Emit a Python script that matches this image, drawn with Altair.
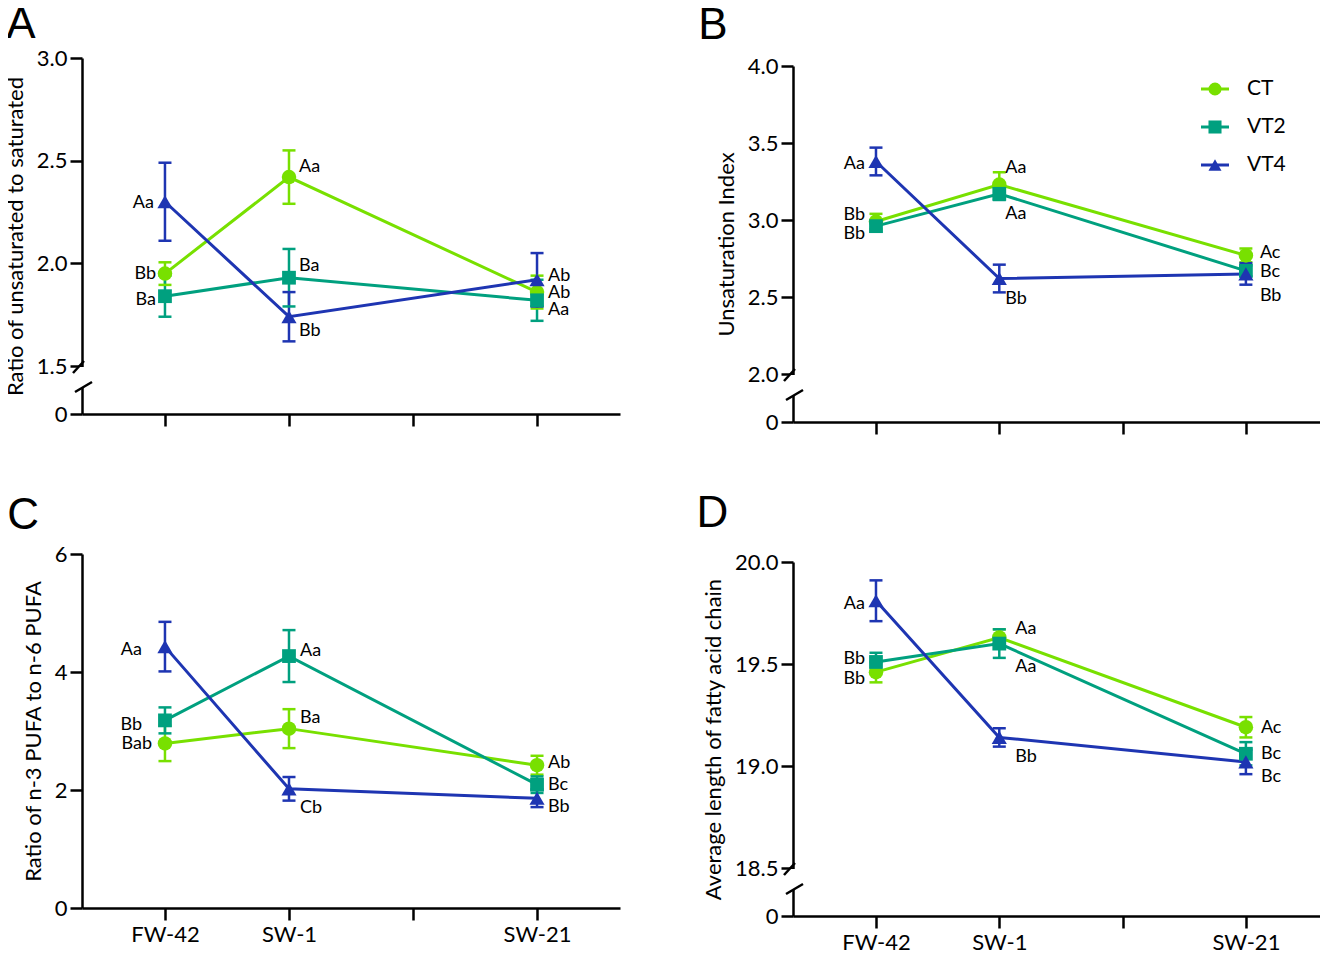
import altair as alt
import pandas as pd

# ---------------- data ----------------
series_names = ["CT", "VT2", "VT4"]
series_colors = ["#78E000", "#00A07F", "#1E35B2"]
series_shapes = ["circle", "square", "triangle-up"]
series_sizes = [210, 190, 230]

x_pos = [0, 1, 3]
x_tick_values = [0, 1, 2, 3]
x_tick_labels = ["FW-42", "SW-1", "", "SW-21"]

# Panel A: ratio of unsaturated to saturated
a_mean = {"CT": [1.95, 2.42, 1.86], "VT2": [1.84, 1.93, 1.82], "VT4": [2.30, 1.74, 1.92]}
a_err = {"CT": [0.055, 0.13, 0.08], "VT2": [0.10, 0.14, 0.10], "VT4": [0.19, 0.12, 0.13]}
a_lab = {"CT": ["Bb", "Aa", "Ab"], "VT2": ["Ba", "Ba", "Aa"], "VT4": ["Aa", "Bb", "Ab"]}
a_ticks = [0, 1.5, 2.0, 2.5, 3.0]

# Panel B: unsaturation index
b_mean = {"CT": [2.99, 3.23, 2.77], "VT2": [2.96, 3.17, 2.67], "VT4": [3.38, 2.62, 2.65]}
b_err = {"CT": [0.05, 0.08, 0.045], "VT2": [0.035, 0.04, 0.035], "VT4": [0.09, 0.09, 0.07]}
b_lab = {"CT": ["Bb", "Aa", "Ac"], "VT2": ["Bb", "Aa", "Bc"], "VT4": ["Aa", "Bb", "Bb"]}
b_ticks = [0, 2.0, 2.5, 3.0, 3.5, 4.0]

# Panel C: ratio of n-3 PUFA to n-6 PUFA
c_mean = {"CT": [2.79, 3.04, 2.42], "VT2": [3.18, 4.27, 2.09], "VT4": [4.43, 2.02, 1.86]}
c_err = {"CT": [0.30, 0.33, 0.16], "VT2": [0.22, 0.44, 0.14], "VT4": [0.42, 0.20, 0.15]}
c_lab = {"CT": ["Bab", "Ba", "Ab"], "VT2": ["Bb", "Aa", "Bc"], "VT4": ["Aa", "Cb", "Bb"]}
c_ticks = [0, 2, 4, 6]

# Panel D: average length of fatty acid chain
d_mean = {"CT": [19.46, 19.63, 19.19], "VT2": [19.51, 19.60, 19.06], "VT4": [19.81, 19.14, 19.02]}
d_err = {"CT": [0.05, 0.04, 0.05], "VT2": [0.045, 0.07, 0.057], "VT4": [0.10, 0.045, 0.06]}
d_lab = {"CT": ["Bb", "Aa", "Ac"], "VT2": ["Bb", "Aa", "Bc"], "VT4": ["Aa", "Bb", "Bc"]}
d_ticks = [0, 18.5, 19.0, 19.5, 20.0]

# label placement offsets in pixels (dx, dy) -- layout only
a_off = {"CT": [(-9, 0), (10, -10), (11, 1)], "VT2": [(-9, 4), (10, -12), (11, 10)], "VT4": [(-11, 1), (10, 14), (11, -4)]}
b_off = {"CT": [(-11, -7), (6, -17), (14, -2)], "VT2": [(-11, 8), (6, 20), (14, 1)], "VT4": [(-11, 3), (6, 20), (14, 22)]}
c_off = {"CT": [(-13, 1), (11, -11), (11, -2)], "VT2": [(-23, 5), (11, -5), (11, 0)], "VT4": [(-23, 3), (11, 19), (11, 9)]}
d_off = {"CT": [(-11, 7), (16, -8), (15, 1)], "VT2": [(-11, -3), (16, 23), (15, 0)], "VT4": [(-11, 3), (16, 20), (15, 15)]}

FONT = "Lato"


def build_df(mean, err, lab, off):
    rows = []
    for s in series_names:
        for i, xv in enumerate(x_pos):
            m, e = mean[s][i], err[s][i]
            rows.append({"series": s, "x": xv, "mean": m, "lo": m - e, "hi": m + e,
                         "label": lab[s][i], "dx": off[s][i][0], "dy": off[s][i][1]})
    return pd.DataFrame(rows)


col_scale = alt.Scale(domain=series_names, range=series_colors)
C = alt.Color("series:N", scale=col_scale, legend=None)


def legend_layer():
    leg_df = pd.DataFrame({"series": series_names})
    ly = alt.Y("series:N", scale=alt.Scale(type="point", domain=series_names, range=[31, 107], padding=0),
               axis=None)
    base = alt.Chart(leg_df)
    line = base.mark_rule(strokeWidth=3).encode(x=alt.value(408), x2=alt.value(436), y=ly, color=C)
    pts = base.mark_point(filled=True, opacity=1, size=170).encode(
        x=alt.value(422), y=ly, color=C,
        shape=alt.Shape("series:N", scale=alt.Scale(domain=series_names, range=series_shapes), legend=None))
    txt = base.mark_text(align="left", baseline="middle", font=FONT, fontSize=21, color="black").encode(
        x=alt.value(454), y=ly, text="series:N")
    return alt.layer(line, pts, txt)


def panel(letter, ytitle, mean, err, lab, off, ydomain, yrange, height, yticks, yfmt,
          width, xdomain, show_xlabels, broken, title_offset, title_dx, legend=False):
    df = build_df(mean, err, lab, off)
    base = alt.Chart(df)
    xaxis = alt.Axis(values=x_tick_values, title=None, labels=show_xlabels,
                     labelExpr="['" + "','".join(x_tick_labels) + "'][datum.value]",
                     labelPadding=4)
    X = alt.X("x:Q", scale=alt.Scale(domain=xdomain, nice=False, zero=False), axis=xaxis)
    yscale = alt.Scale(domain=ydomain, range=yrange, nice=False, zero=False)
    yaxis = alt.Axis(values=yticks, title=ytitle, zindex=0, labelExpr=yfmt, titlePadding=9)

    def Y(field):
        return alt.Y(field + ":Q", scale=yscale, axis=yaxis, title=ytitle)

    lines = base.mark_line(strokeWidth=3).encode(x=X, y=Y("mean"), color=C)
    rules = base.mark_rule(strokeWidth=2.5).encode(x=X, y=Y("lo"), y2="hi:Q", color=C)
    cap_lo = base.mark_tick(orient="horizontal", size=13, thickness=2.5, opacity=1).encode(x=X, y=Y("lo"), color=C)
    cap_hi = base.mark_tick(orient="horizontal", size=13, thickness=2.5, opacity=1).encode(x=X, y=Y("hi"), color=C)
    layers = [rules, cap_lo, cap_hi, lines]
    for s, sh, sz in zip(series_names, series_shapes, series_sizes):
        layers.append(base.transform_filter(alt.datum.series == s)
                      .mark_point(shape=sh, filled=True, size=sz, opacity=1)
                      .encode(x=X, y=Y("mean"), color=C))
    pairs = sorted(set(zip(df["dx"], df["dy"])))
    for dx, dy in pairs:
        layers.append(base.transform_filter(f"datum.dx == {dx} && datum.dy == {dy}")
                      .mark_text(align="left" if dx > 0 else "right", baseline="middle",
                                 dx=int(dx), dy=int(dy), font=FONT, fontSize=18, color="black")
                      .encode(x=X, y=Y("mean"), text="label:N"))
    if broken:
        g = yrange[1]
        dec = alt.Chart(pd.DataFrame({"k": [0]}))
        layers.append(dec.mark_rect(color="white").encode(
            x=alt.value(-5), x2=alt.value(5), y=alt.value(g + 1), y2=alt.value(g + 22)))
        layers.append(dec.mark_rule(strokeWidth=2.5, color="black").encode(
            x=alt.value(-9), x2=alt.value(2), y=alt.value(g + 7), y2=alt.value(g - 5)))
        layers.append(dec.mark_rule(strokeWidth=2.5, color="black").encode(
            x=alt.value(-7), x2=alt.value(10), y=alt.value(g + 26), y2=alt.value(g + 16)))
    main = alt.layer(*layers)
    if legend:
        main = alt.layer(main, legend_layer()).resolve_scale(y="independent")
    return main.properties(
        width=width, height=height,
        title=alt.TitleParams(letter, anchor="start", frame="bounds", fontSize=44,
                              font="Liberation Sans", fontWeight="normal", color="black",
                              offset=title_offset, dx=title_dx, baseline="alphabetic"))


one_dec = "datum.value == 0 ? '0' : format(datum.value, '.1f')"
xdA = [-0.669, 3.669]
xdB = [-0.673, 3.601]

pA = panel("A", "Ratio of unsaturated to saturated", a_mean, a_err, a_lab, a_off,
           [0, 1.5, 3.0], [356, 308, 0], 356, a_ticks, one_dec, 538, xdA, False, True, -35, 2)
pB = panel("B", "Unsaturation Index", b_mean, b_err, b_lab, b_off,
           [0, 2.0, 4.0], [364, 316, 8], 364, b_ticks, one_dec, 527, xdB, False, True, -28, -17, legend=True)
pC = panel("C", "Ratio of n-3 PUFA to n-6 PUFA", c_mean, c_err, c_lab, c_off,
           [0, 6], [354, 0], 354, c_ticks, "format(datum.value, 'd')", 538, xdA, True, False, -30, -15)
pD = panel("D", "Average length of fatty acid chain", d_mean, d_err, d_lab, d_off,
           [0, 18.5, 20.0], [362, 314, 8], 362, d_ticks, one_dec, 527, xdB, True, True, -20, -6)

chart = alt.concat(pA, pB, pC, pD, columns=2, spacing={"row": 56, "column": 76}).resolve_scale(
    color="independent", shape="independent", x="independent", y="independent"
).configure_view(stroke=None).configure_axis(
    domainColor="black", domainWidth=2.5, tickColor="black", tickWidth=2.5, tickSize=12,
    labelFont=FONT, labelFontSize=22, labelColor="black", labelPadding=3,
    titleFont=FONT, titleFontSize=22, titleFontWeight="normal", titleColor="black", grid=False
).properties(padding={"top": -5, "left": -4, "right": 0, "bottom": -2})

chart.save("out.html", embed_options={"renderer": "svg", "actions": False})
